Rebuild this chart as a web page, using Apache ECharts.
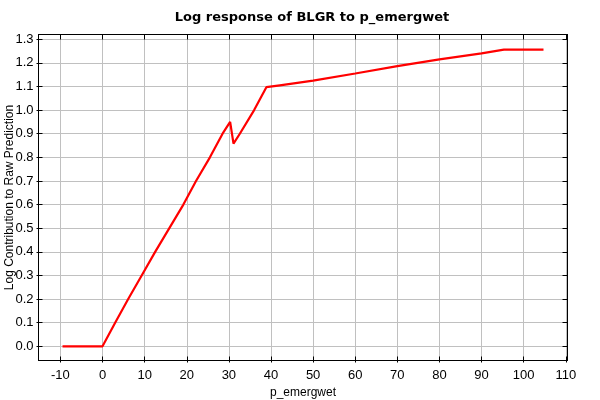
<!DOCTYPE html>
<html>
<head>
<meta charset="utf-8">
<script src="https://cdn.jsdelivr.net/npm/echarts@6/dist/echarts.min.js"></script>
<style>html,body{margin:0;padding:0;background:#fff}#c{width:600px;height:400px}</style>
</head>
<body>
<div id="c"></div>
<script>
const xValues = [-9.5, 0, 3.0, 6.1, 9.3, 12.5, 17.0, 19.2, 22.2, 25.5, 28.5, 30.3, 31.1, 32.6, 36.0, 38.9, 42.1, 50, 60, 70, 80, 90, 95.3, 104.7];
const yValues = [0, 0, 0.10, 0.20, 0.30, 0.40, 0.534, 0.60, 0.70, 0.80, 0.90, 0.95, 0.858, 0.90, 1.00, 1.097, 1.105, 1.125, 1.155, 1.186, 1.215, 1.240, 1.256, 1.256];
const xTicks = [-10, 0, 10, 20, 30, 40, 50, 60, 70, 80, 90, 100, 110];
const yTicks = [0, 0.1, 0.2, 0.3, 0.4, 0.5, 0.6, 0.7, 0.8, 0.9, 1.0, 1.1, 1.2, 1.3];
const titleText = 'Log response of BLGR to p_emergwet';
const xName = 'p_emergwet';
const yName = 'Log Contribution to Raw Prediction';

const data = xValues.map((x, i) => [x, yValues[i]]);
const font = 'Liberation Sans';
const XMIN = -15.2, XMAX = 110.4, YMIN = -0.06, YMAX = 1.32;
const black = '#000';

function xAx(extra) {
  return Object.assign({
    type: 'value', min: XMIN, max: XMAX,
    axisLine: { show: true, onZero: false, lineStyle: { color: black, width: 1 } },
    axisTick: { show: true, customValues: xTicks, length: 2, lineStyle: { color: black } },
    axisLabel: { show: false, customValues: xTicks },
    splitLine: { show: false }
  }, extra);
}
function yAx(extra) {
  return Object.assign({
    type: 'value', min: YMIN, max: YMAX,
    axisLine: { show: true, onZero: false, lineStyle: { color: black, width: 1 } },
    axisTick: { show: true, customValues: yTicks, length: 2, lineStyle: { color: black } },
    axisLabel: { show: false, customValues: yTicks },
    splitLine: { show: false }
  }, extra);
}

const chart = echarts.init(document.getElementById('c'), null, { renderer: 'canvas' });
chart.setOption({
  animation: false,
  backgroundColor: '#fff',
  title: {
    text: titleText, left: 307, top: 6, textAlign: 'center',
    textStyle: { fontFamily: 'DejaVu Sans', fontWeight: 'bold', fontSize: 13, color: black }
  },
  grid: { left: 38.5, right: 32.5, top: 34.5, bottom: 39.5, containLabel: false, outerBoundsMode: 'none' },
  xAxis: [
    xAx({
      position: 'bottom',
      name: xName, nameLocation: 'middle', nameGap: 26, nameMoveOverlap: false,
      nameTextStyle: { fontFamily: font, fontSize: 12, color: black },
      axisLabel: { show: true, customValues: xTicks, margin: 8, fontFamily: font, fontSize: 13, color: black },
      splitLine: { show: true, lineStyle: { color: '#c0c0c0', width: 1 } }
    }),
    xAx({ position: 'top', axisTick: { show: true, inside: true, customValues: xTicks, length: 5, lineStyle: { color: black } } }),
    xAx({ position: 'bottom', axisLine: { show: false, onZero: false }, axisTick: { show: true, inside: true, customValues: xTicks, length: 4, lineStyle: { color: black } } })
  ],
  yAxis: [
    yAx({
      position: 'left',
      name: yName, nameLocation: 'middle', nameGap: 23, nameMoveOverlap: false,
      nameTextStyle: { fontFamily: font, fontSize: 12, color: black },
      axisLabel: { show: true, customValues: yTicks, margin: 5, fontFamily: font, fontSize: 13, color: black,
                   formatter: v => v.toFixed(1) },
      splitLine: { show: true, lineStyle: { color: '#c0c0c0', width: 1 } }
    }),
    yAx({ position: 'right', axisTick: { show: true, inside: true, customValues: yTicks, length: 5, lineStyle: { color: black } } }),
    yAx({ position: 'left', axisLine: { show: false, onZero: false }, axisTick: { show: true, inside: true, customValues: yTicks, length: 4, lineStyle: { color: black } } })
  ],
  series: [{
    type: 'line', data: data, xAxisIndex: 0, yAxisIndex: 0,
    showSymbol: false, symbol: 'none',
    lineStyle: { color: '#ff0000', width: 2.2 }
  }]
});
</script>
</body>
</html>
